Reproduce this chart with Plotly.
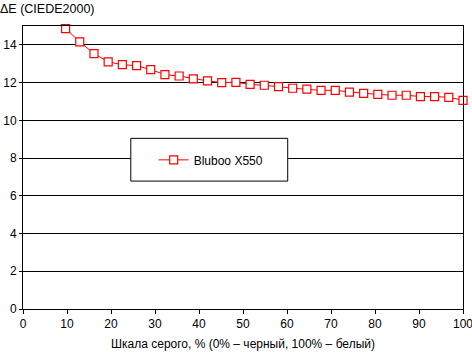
import plotly.graph_objects as go

steps = list(range(3, 32))
gray_pct = [i * 100 / 31 for i in steps]
delta_e = [14.86, 14.16, 13.54, 13.10, 12.95, 12.90, 12.69, 12.42, 12.35, 12.20,
           12.09, 12.00, 12.01, 11.91, 11.86, 11.79, 11.70, 11.65, 11.59, 11.59,
           11.49, 11.43, 11.38, 11.33, 11.33, 11.26, 11.26, 11.22, 11.06]
series_name = "Bluboo X550"
x_ticks = list(range(0, 101, 10))
y_ticks = list(range(0, 15, 2))

FONT = "Liberation Sans, Arial, sans-serif"

fig = go.Figure()
fig.add_trace(go.Scatter(
    x=gray_pct, y=delta_e, name=series_name, mode="lines+markers",
    line=dict(color="#ff0000", width=1),
    marker=dict(symbol="square", size=8, color="white",
                line=dict(color="#ff0000", width=1.2)),
    showlegend=True, cliponaxis=False,
))

fig.update_layout(
    width=472, height=352,
    margin=dict(l=23, r=9, t=26, b=43, autoexpand=False),
    paper_bgcolor="white", plot_bgcolor="white",
    font=dict(family=FONT, size=12, color="black"),
    xaxis=dict(range=[0, 100], tickvals=x_ticks, showgrid=False, zeroline=False,
               showline=True, linecolor="black", linewidth=1, mirror=True,
               ticks="outside", ticklen=4, tickcolor="black", automargin=False,
               ticklabeloverflow="allow",
               title=dict(text="Шкала серого, % (0% – черный, 100% – белый)",
                          standoff=9, font=dict(size=12))),
    yaxis=dict(range=[0, 15], tickvals=y_ticks, showgrid=True, gridcolor="black",
               gridwidth=1, zeroline=False, showline=True, linecolor="black",
               linewidth=1, mirror=True, ticks="outside", ticklen=3,
               tickcolor="black", automargin=False),
    legend=dict(x=0.297, y=0.527, xanchor="left", yanchor="middle",
                bgcolor="rgba(0,0,0,0)", borderwidth=0, font=dict(size=12)),
    shapes=[dict(type="rect", xref="paper", yref="paper", x0=0.245, x1=0.6016,
                 y0=0.452, y1=0.603, line=dict(color="black", width=1),
                 fillcolor="white", layer="above")],
    annotations=[dict(text="ΔE (CIEDE2000)", xref="paper", yref="paper",
                      x=0, y=1, xanchor="left", yanchor="top", showarrow=False,
                      font=dict(size=12.5), xshift=-25, yshift=26)],
)
fig.write_html("out.html")
